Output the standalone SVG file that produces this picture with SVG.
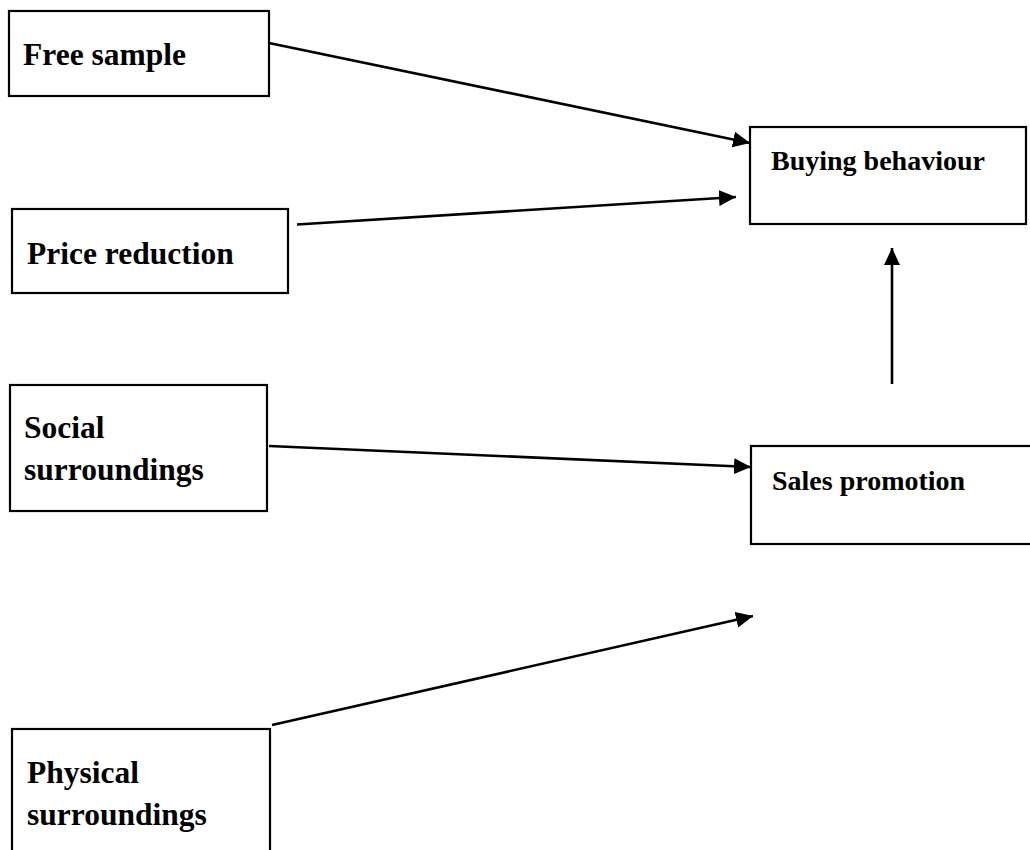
<svg xmlns="http://www.w3.org/2000/svg" width="1030" height="850" viewBox="0 0 1030 850">
  <style>
    .box { fill: #ffffff; stroke: #000000; stroke-width: 2.2; }
    .lbl { font-family: "Liberation Serif", "Times New Roman", serif; font-weight: bold; fill: #000000; }
    .big { font-size: 31.5px; }
    .small { font-size: 28px; }
    .conn { stroke: #000000; stroke-width: 2.6; fill: none; marker-end: url(#ah); }
  </style>
  <defs>
    <marker id="ah" markerUnits="userSpaceOnUse" markerWidth="17" markerHeight="16" refX="17" refY="8" orient="auto">
      <path d="M0,0 L17,8 L0,16 z" fill="#000000"/>
    </marker>
  </defs>
  <rect width="1030" height="850" fill="#ffffff"/>

  <g id="free-sample">
    <rect class="box" x="9" y="11" width="260" height="85"/>
    <text class="lbl big" x="23" y="65">Free sample</text>
  </g>
  <g id="price-reduction">
    <rect class="box" x="12" y="209" width="276" height="84"/>
    <text class="lbl big" x="27" y="264">Price reduction</text>
  </g>
  <g id="social-surroundings">
    <rect class="box" x="10" y="385" width="257" height="126"/>
    <text class="lbl big" x="24" y="438">Social</text>
    <text class="lbl big" x="24" y="480">surroundings</text>
  </g>
  <g id="physical-surroundings">
    <rect class="box" x="12" y="729" width="258" height="140"/>
    <text class="lbl big" x="27" y="783">Physical</text>
    <text class="lbl big" x="27" y="825">surroundings</text>
  </g>
  <g id="buying-behaviour">
    <rect class="box" x="750" y="127" width="276" height="97"/>
    <text class="lbl small" x="771" y="170">Buying behaviour</text>
  </g>
  <g id="sales-promotion">
    <rect class="box" x="751" y="446" width="300" height="98"/>
    <text class="lbl small" x="772" y="490">Sales promotion</text>
  </g>

  <g id="connectors">
    <line class="conn" x1="269" y1="43" x2="750" y2="143"/>
    <line class="conn" x1="297" y1="224.5" x2="736" y2="197"/>
    <line class="conn" x1="269" y1="446" x2="751" y2="467"/>
    <line class="conn" x1="272" y1="725" x2="753" y2="616"/>
    <line class="conn" x1="892" y1="384" x2="892" y2="248"/>
  </g>
</svg>
